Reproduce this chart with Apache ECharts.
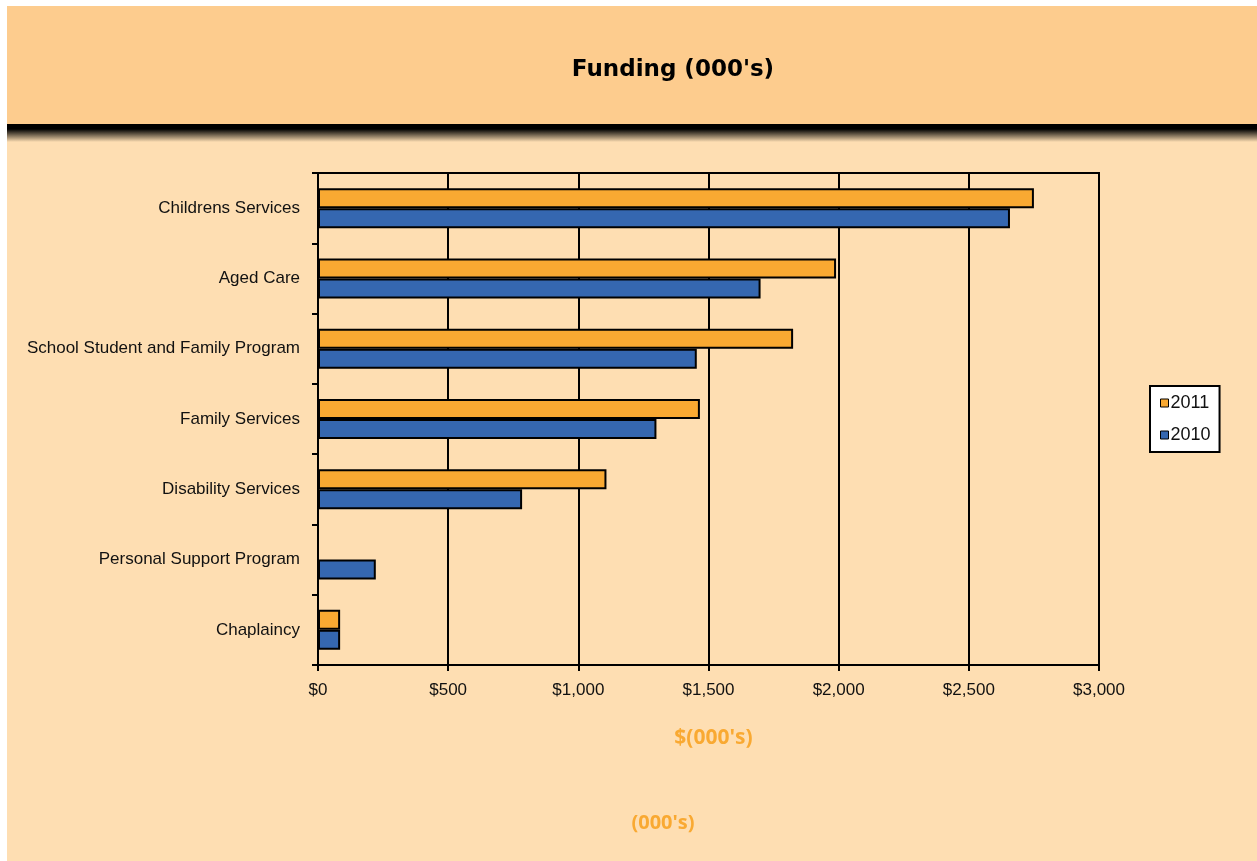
<!DOCTYPE html>
<html>
<head>
<meta charset="utf-8">
<script src="https://cdn.jsdelivr.net/npm/echarts@6/dist/echarts.min.js"></script>
<style>
  html, body { margin: 0; padding: 0; background: #fff; }
  #funding { width: 1257px; height: 861px; }
</style>
</head>
<body>
<div id="funding"></div>
<script>
var categories = ['Childrens Services', 'Aged Care', 'School Student and Family Program', 'Family Services', 'Disability Services', 'Personal Support Program', 'Chaplaincy'];
var funding2011 = [2750, 1990, 1825, 1467, 1108, 0, 85];
var funding2010 = [2658, 1700, 1455, 1300, 784, 222, 85];
var xTicks = [0, 500, 1000, 1500, 2000, 2500, 3000];

var chart = echarts.init(document.getElementById('funding'));

var labelFont = { fontFamily: 'Liberation Sans', fontSize: 17, color: '#111' };

var option = {
  backgroundColor: '#ffffff',
  animation: false,
  graphic: [
    // header band
    { type: 'rect', z: -10, shape: { x: 7, y: 6, width: 1250, height: 118 }, style: { fill: '#FDCC8E' } },
    // body
    { type: 'rect', z: -10, shape: { x: 7, y: 124, width: 1250, height: 737 }, style: { fill: '#FEDEB2' } },
    // black shadow band
    { type: 'rect', z: -9, shape: { x: 7, y: 124, width: 1250, height: 18 },
      style: { fill: new echarts.graphic.LinearGradient(0, 0, 0, 1, [
        { offset: 0, color: '#000' },
        { offset: 0.28, color: '#000' },
        { offset: 1, color: '#FEDEB2' }
      ]) } },
    // title
    { type: 'text', z: 100, x: 673, y: 70,
      style: { text: "Funding (000's)", fontFamily: 'DejaVu Sans', fontWeight: 'bold', fontSize: 23,
        fill: '#000', align: 'center', verticalAlign: 'middle' } },
    { type: 'text', z: 100, x: 663, y: 823,
      style: { text: "(000's)", fontFamily: 'Open Sans', fontWeight: 'bold', fontSize: 20, fill: '#F9A932',
        align: 'center', verticalAlign: 'middle' } }
  ],
  legend: {
    orient: 'vertical',
    left: 1150,
    top: 386,
    data: ['2011', '2010'],
    backgroundColor: '#fff',
    borderColor: '#000',
    borderWidth: 2,
    padding: [8, 9, 8, 10],
    itemGap: 14,
    itemWidth: 8,
    itemHeight: 8,
    icon: 'rect',
    textStyle: { fontFamily: 'Liberation Sans', fontSize: 18, color: '#111', padding: [0, 0, 0, -3] },
    itemStyle: { borderColor: '#000', borderWidth: 1 }
  },
  grid: {
    left: 318,
    right: 158,
    top: 173,
    bottom: 196,
    show: true,
    borderColor: '#000',
    borderWidth: 2,
    backgroundColor: 'transparent'
  },
  xAxis: {
    type: 'value',
    min: xTicks[0],
    max: xTicks[xTicks.length - 1],
    interval: xTicks[1] - xTicks[0],
    name: "$(000's)",
    nameLocation: 'middle',
    nameGap: 63,
    nameTextStyle: { fontFamily: 'Open Sans', fontWeight: 'bold', fontSize: 21, color: '#F9A932', padding: [0, 0, 0, 10] },
    axisLine: { show: true, lineStyle: { color: '#000', width: 2 } },
    axisTick: { show: true, length: 6, lineStyle: { color: '#000', width: 2 } },
    axisLabel: {
      margin: 17,
      fontFamily: 'Liberation Sans', fontSize: 17, color: '#111',
      formatter: function (v) { return '$' + v.toLocaleString('en-US'); }
    },
    splitLine: { show: true, lineStyle: { color: '#000', width: 2 } }
  },
  yAxis: {
    type: 'category',
    inverse: true,
    data: categories,
    axisLine: { show: true, lineStyle: { color: '#000', width: 2 } },
    axisTick: { show: true, length: 6, lineStyle: { color: '#000', width: 2 } },
    axisLabel: Object.assign({ margin: 18 }, labelFont)
  },
  series: [
    {
      name: '2011',
      type: 'bar',
      data: funding2011,
      barWidth: 20,
      barGap: '0%',
      itemStyle: { color: '#F9A932', borderColor: '#000', borderWidth: 2 }
    },
    {
      name: '2010',
      type: 'bar',
      data: funding2010,
      barWidth: 20,
      barGap: '0%',
      itemStyle: { color: '#3567B0', borderColor: '#000', borderWidth: 2 }
    }
  ]
};

chart.setOption(option);
window.onresize = chart.resize;
</script>
</body>
</html>
